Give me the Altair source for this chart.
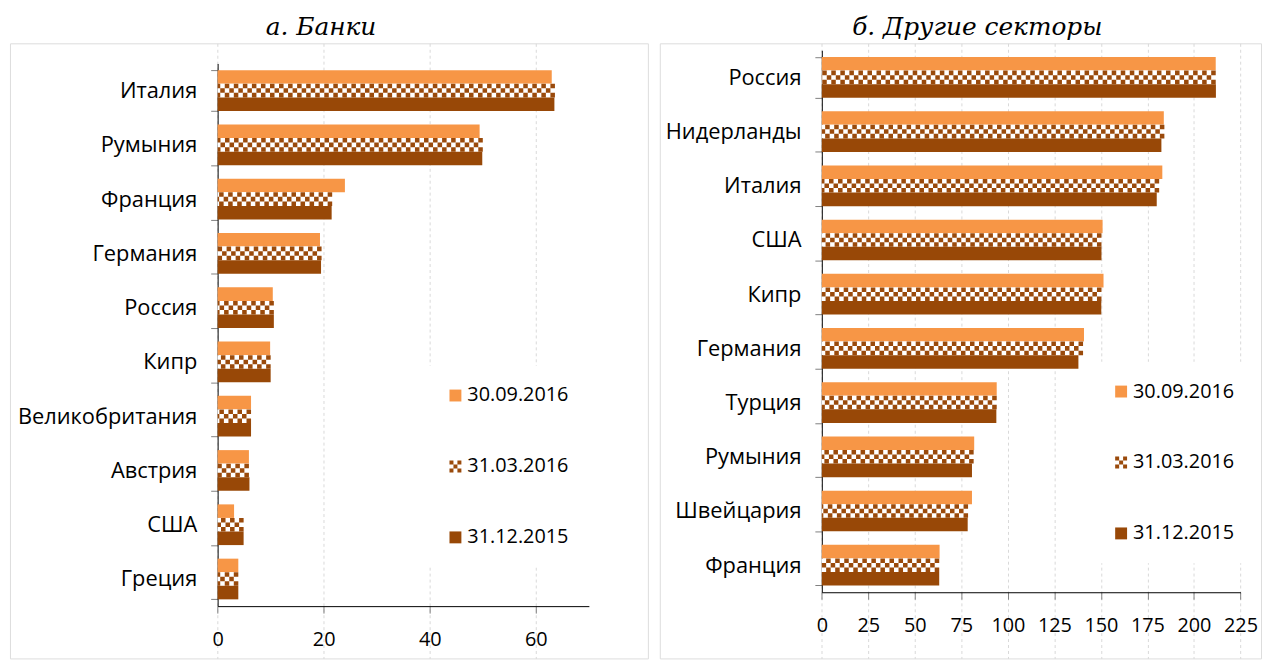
import altair as alt
import pandas as pd

series = ["30.09.2016", "31.03.2016", "31.12.2015"]

banks_countries = ["Италия", "Румыния", "Франция", "Германия", "Россия", "Кипр",
                   "Великобритания", "Австрия", "США", "Греция"]
banks_sep16 = [63.0, 49.4, 24.0, 19.3, 10.4, 9.9, 6.3, 5.9, 3.1, 3.9]
banks_mar16 = [63.6, 50.0, 21.6, 19.6, 10.6, 10.0, 6.3, 5.9, 4.9, 3.9]
banks_dec15 = [63.5, 49.9, 21.5, 19.5, 10.6, 10.0, 6.3, 6.0, 4.9, 3.9]
banks_ticks = [0, 20, 40, 60]

other_countries = ["Россия", "Нидерланды", "Италия", "США", "Кипр", "Германия",
                   "Турция", "Румыния", "Швейцария", "Франция"]
other_sep16 = [211.7, 183.8, 183.0, 150.9, 151.4, 140.9, 94.0, 81.9, 80.7, 63.3]
other_mar16 = [211.7, 184.1, 181.3, 150.3, 150.3, 140.4, 94.0, 81.6, 78.6, 63.1]
other_dec15 = [211.8, 182.5, 180.0, 150.3, 150.2, 137.9, 93.8, 80.7, 78.4, 63.1]
other_ticks = [0, 25, 50, 75, 100, 125, 150, 175, 200, 225]

ORANGE = "#F79646"
BROWN = "#9A4A0B"
DARK = "#984807"
FONT = "Open Sans"

SLOTS = ["a1", "a2", "a3", "b1", "b2", "b3", "c1", "c2", "c3"]
H = 620
SUB = 41.03 / 9.0
CHECKER = ("M-1,-1h0.667v0.667h-0.667z M0.333,-1h0.667v0.667h-0.667z "
           "M-0.333,-0.333h0.667v0.667h-0.667z M-1,0.333h0.667v0.667h-0.667z "
           "M0.333,0.333h0.667v0.667h-0.667z")


def panel(title, title_dx, countries, s1, s2, s3, xmax, ticks, x_range, y_range,
          width, legend_x, legend_y):
    rows = []
    for c, a, b, d in zip(countries, s1, s2, s3):
        rows.append({"country": c, "series": series[0], "value": a})
        rows.append({"country": c, "series": series[1], "value": b})
        rows.append({"country": c, "series": series[2], "value": d})
    df = pd.DataFrame(rows)

    xscale = alt.Scale(domain=[0, xmax], range=x_range, nice=False)
    y = alt.Y("country:N", sort=countries,
              scale=alt.Scale(domain=countries, range=y_range,
                              paddingInner=0.25, paddingOuter=0.125),
              axis=alt.Axis(title=None, offset=-x_range[0], tickBand="extent",
                            tickSize=7, tickColor="#808080", domainColor="black",
                            labelFont=FONT, labelFontSize=22, labelColor="black",
                            labelPadding=14, labelLimit=400, grid=False))
    yo = alt.YOffset("slot:N", scale=alt.Scale(domain=SLOTS, paddingInner=0,
                                               paddingOuter=0))
    x = alt.X("value:Q", scale=xscale,
              axis=alt.Axis(title=None, orient="bottom", values=ticks,
                            offset=-(H - y_range[1]),
                            tickSize=7, tickColor="#808080", domainColor="black",
                            labelFont=FONT, labelFontSize=20, labelColor="black",
                            labelPadding=17, labelFlush=False, grid=False))
    x2 = alt.X2(datum=0)

    base = alt.Chart(df)

    def rule(ser, slot, color, sw, dash=None, dash_off=None):
        kw = dict(color=color, strokeWidth=sw)
        if dash is not None:
            kw["strokeDash"] = dash
        if dash_off is not None:
            kw["strokeDashOffset"] = dash_off
        return (base.transform_filter(alt.datum.series == ser)
                .transform_calculate(slot=f"'{slot}'")
                .mark_rule(**kw)
                .encode(x=x, x2=x2, y=y, yOffset=yo))

    bars = alt.layer(
        rule(series[0], "a2", ORANGE, 3 * SUB),
        rule(series[1], "b2", "white", 3 * SUB),
        rule(series[1], "b1", BROWN, SUB, [SUB, SUB]),
        rule(series[1], "b2", BROWN, SUB, [SUB, SUB], SUB),
        rule(series[1], "b3", BROWN, SUB, [SUB, SUB]),
        rule(series[2], "c2", DARK, 3 * SUB),
    )

    # invisible layer whose axis only draws the vertical grid lines
    grid_layer = (alt.Chart(pd.DataFrame({"tick": ticks}))
                  .mark_rule(opacity=0)
                  .encode(x=alt.X("tick:Q", scale=xscale,
                                  axis=alt.Axis(orient="top", title=None,
                                                values=ticks, grid=True,
                                                gridColor="#d9d9d9",
                                                gridDash=[3, 3], domain=False,
                                                ticks=False, labels=False,
                                                offset=0))))

    leg = alt.Legend(title=None, orient="none", legendX=legend_x, legendY=legend_y,
                     fillColor="white", padding=20, labelFont=FONT,
                     labelFontSize=20, labelColor="black", symbolSize=144,
                     symbolStrokeWidth=0, symbolOpacity=1, rowPadding=51.5,
                     labelOffset=2, direction="vertical")
    legend_layer = (alt.Chart(pd.DataFrame({"series": series}))
                    .mark_point(filled=True, opacity=0)
                    .encode(color=alt.Color("series:N",
                                            scale=alt.Scale(domain=series,
                                                            range=[ORANGE, BROWN, DARK]),
                                            legend=leg),
                            shape=alt.Shape("series:N",
                                            scale=alt.Scale(domain=series,
                                                            range=["square", CHECKER, "square"]),
                                            legend=leg)))

    return (alt.layer(grid_layer, bars, legend_layer)
            .resolve_axis(x="independent")
            .properties(
                width=width, height=H,
                title=alt.TitleParams(title, font="DejaVu Serif", fontSize=25,
                                      fontStyle="italic", fontWeight="normal",
                                      color="black", offset=-8, anchor="middle",
                                      dx=title_dx)))


left = panel("а. Банки", -8, banks_countries, banks_sep16, banks_mar16, banks_dec15,
             70, banks_ticks, [209.3, 583.5], [20.3, 567.3], 643, 419, 325)
right = panel("б. Другие секторы", 17, other_countries, other_sep16, other_mar16,
              other_dec15, 225, other_ticks, [163.3, 585.3], [7.0, 553.3], 606,
              435, 321)

chart = (alt.hconcat(left, right, spacing=10)
         .resolve_legend(color="independent", shape="independent")
         .resolve_scale(color="independent", shape="independent")
         .properties(padding={"left": 1, "top": 4, "right": 0, "bottom": 0})
         .configure_view(stroke="#808080", strokeWidth=1)
         .configure(background="white"))

chart.save("out.html", embed_options={"renderer": "svg", "actions": False})
